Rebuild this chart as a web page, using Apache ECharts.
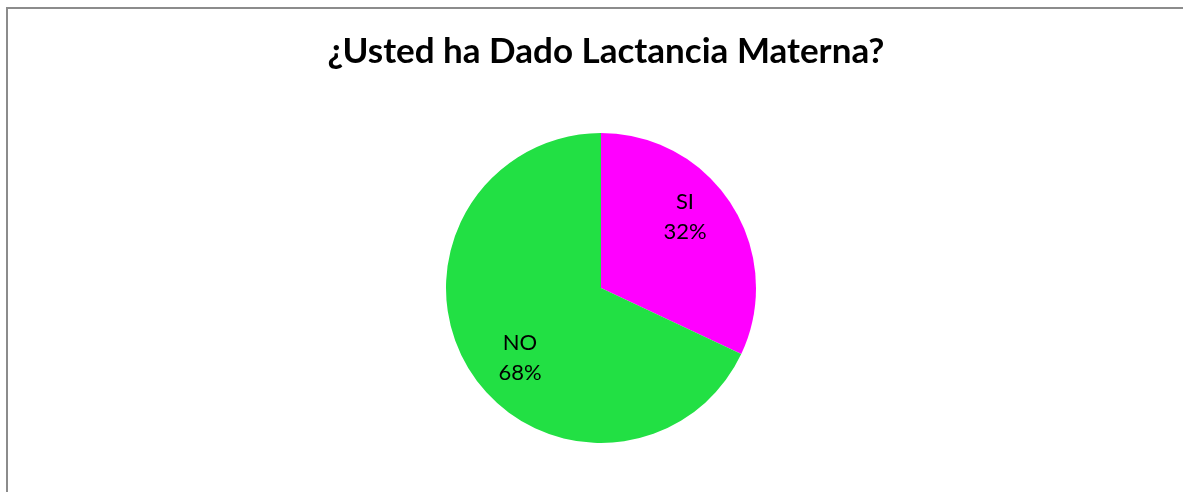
<!DOCTYPE html>
<html><head><meta charset="utf-8">
<script src="https://cdn.jsdelivr.net/npm/echarts@6/dist/echarts.min.js"></script>
<style>
html,body{margin:0;padding:0;width:1183px;height:492px;overflow:hidden;background:#fff;}
#frame{position:absolute;left:6px;top:7px;width:1300px;height:600px;border:2px solid #8c8c8c;box-sizing:border-box;}
#c{position:absolute;left:0;top:0;width:1183px;height:492px;}
</style></head>
<body><div id="frame"></div><div id="c"></div>
<script>
const title = '¿Usted ha Dado Lactancia Materna?';
const categories = ['SI', 'NO'];
const values = [32, 68];
const colors = ['#FF00FF', '#22E044'];
const labelShift = [[16, -28], [-13, 27]];

const chart = echarts.init(document.getElementById('c'), null, {renderer: 'canvas'});
chart.setOption({
  animation: false,
  title: {
    text: title, left: 601, textAlign: 'center', top: 29,
    textStyle: {fontFamily: 'Lato', fontWeight: 'bold', fontSize: 35, color: '#000'}
  },
  series: [{
    type: 'pie',
    center: [601, 288],
    radius: 155,
    startAngle: 90,
    clockwise: true,
    data: categories.map((c, i) => ({name: c, value: values[i], itemStyle: {color: colors[i]}})),
    label: {
      show: true, position: 'inside',
      formatter: p => p.name + '\n' + Math.round(p.percent) + '%',
      fontFamily: 'Lato', fontSize: 22, lineHeight: 30, color: '#000'
    },
    labelLine: {show: false},
    labelLayout: p => ({dx: labelShift[p.dataIndex][0], dy: labelShift[p.dataIndex][1]})
  }]
});
</script></body></html>
